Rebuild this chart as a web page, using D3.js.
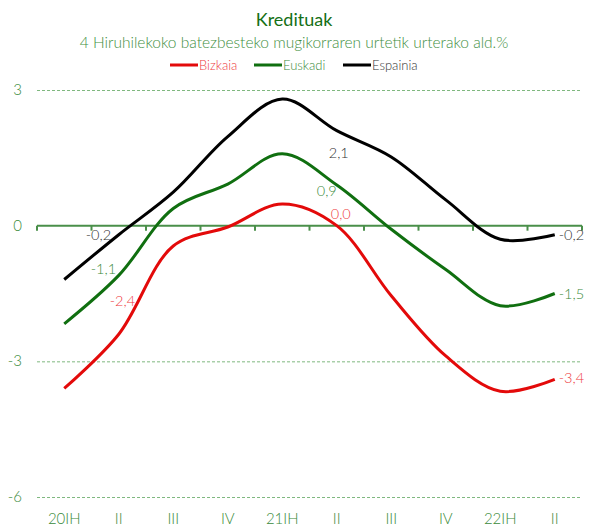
<!DOCTYPE html>
<html>
<head>
<meta charset="utf-8">
<script src="https://cdn.jsdelivr.net/npm/d3@7"></script>
<style>
  body { margin: 0; background: #fff; }
  svg { font-family: Lato, "Open Sans", sans-serif; font-weight: 300; }
</style>
</head>
<body>
<svg id="chart"></svg>
<script>
// categories (quarters)
const quarters = ["20IH", "II", "III", "IV", "21IH", "II ", "III ", "IV ", "22IH", "II  "];
const quarterLabels = ["20IH", "II", "III", "IV", "21IH", "II", "III", "IV", "22IH", "II"];

// series values
const bizkaia  = [-3.6, -2.4, -0.45, -0.03, 0.48, 0.0, -1.55, -2.88, -3.66, -3.4];
const euskadi  = [-2.17, -1.1, 0.38, 0.92, 1.59, 0.9, -0.08, -0.97, -1.77, -1.5];
const espainia = [-1.19, -0.2, 0.74, 1.97, 2.8, 2.1, 1.52, 0.57, -0.3, -0.2];

const yTicks = [3, 0, -3, -6];

const seriesNames = ["Bizkaia", "Euskadi", "Espainia"];

const width = 590, height = 528;
const margin = {top: 90, right: 8, bottom: 31, left: 37};

const svg = d3.select("#chart").attr("width", width).attr("height", height);

const x = d3.scaleBand().domain(quarters).range([margin.left, width - margin.right]);
const y = d3.scaleLinear().domain([-6, 3]).range([height - margin.bottom, margin.top]);

const series = [
  {name: seriesNames[0], values: bizkaia, color: "#e30a0a", label: "#ee3a40"},
  {name: seriesNames[1], values: euskadi, color: "#106f10", label: "#3a8a3a"},
  {name: seriesNames[2], values: espainia, color: "#000000", label: "#333333"}
];

// title
svg.append("text").attr("x", 294).attr("y", 26).attr("text-anchor", "middle")
  .attr("font-size", 18).attr("font-weight", 400).attr("fill", "#157015").text("Kredituak");
svg.append("text").attr("x", 294).attr("y", 48).attr("text-anchor", "middle")
  .attr("font-size", 15.5).attr("fill", "#3f8f3f")
  .text("4 Hiruhilekoko batezbesteko mugikorraren urtetik urterako ald.%");

// legend
const legendPos = [170, 254, 343];
series.forEach((s, i) => {
  const g = svg.append("g").attr("transform", `translate(${legendPos[i]},65)`);
  g.append("line").attr("x1", 0).attr("x2", 28).attr("stroke", s.color).attr("stroke-width", 3);
  g.append("text").attr("x", 29).attr("y", 4.5).attr("font-size", 13).attr("fill", s.label).text(s.name);
});

// gridlines
svg.append("g").selectAll("line").data(yTicks.filter(d => d !== 0)).join("line")
  .attr("x1", margin.left).attr("x2", width - margin.right)
  .attr("y1", d => y(d) + 0.5).attr("y2", d => y(d) + 0.5)
  .attr("stroke", "#7fb87f").attr("stroke-width", 1).attr("stroke-dasharray", "3,2");

// y axis labels
svg.append("g").selectAll("text").data(yTicks).join("text")
  .attr("x", 22).attr("y", d => y(d) + 5).attr("text-anchor", "end")
  .attr("font-size", 15).attr("fill", "#3a8a3a").text(d => d);

// zero axis with ticks
const zeroG = svg.append("g").attr("transform", `translate(0,${y(0)})`);
zeroG.append("line").attr("x1", margin.left).attr("x2", width - margin.right)
  .attr("stroke", "#4a8f4a").attr("stroke-width", 2);
const tickPos = quarters.map(q => x(q)).concat([x.range()[1]]);
zeroG.selectAll(".tk").data(tickPos).join("line").attr("class", "tk")
  .attr("x1", d => d).attr("x2", d => d).attr("y1", 0).attr("y2", 5)
  .attr("stroke", "#4a8f4a").attr("stroke-width", 2);

// x labels
svg.append("g").selectAll("text").data(quarters).join("text")
  .attr("x", d => x(d) + x.bandwidth() / 2).attr("y", 524).attr("text-anchor", "middle")
  .attr("font-size", 15).attr("fill", "#3a8a3a").text((d, i) => quarterLabels[i]);

// lines
const line = d3.line()
  .x((d, i) => x(quarters[i]) + x.bandwidth() / 2)
  .y(d => y(d))
  .curve(d3.curveCatmullRom.alpha(0.5));

series.forEach(s => {
  svg.append("path").datum(s.values).attr("d", line)
    .attr("fill", "none").attr("stroke", s.color).attr("stroke-width", 3);
});

// data labels
const fmt = v => d3.format(".1f")(v).replace(".", ",").replace("−", "-");
const cx = i => x(quarters[i]) + x.bandwidth() / 2;
const labels = [
  {s: 2, i: 1, dx: -33, dy: 5},
  {s: 1, i: 1, dx: -28, dy: -1},
  {s: 0, i: 1, dx: -9, dy: -28},
  {s: 2, i: 5, dx: -8, dy: 27},
  {s: 1, i: 5, dx: -20, dy: 11},
  {s: 0, i: 5, dx: -6, dy: -7},
  {s: 2, i: 9, dx: 4, dy: 5},
  {s: 1, i: 9, dx: 4, dy: 5},
  {s: 0, i: 9, dx: 4, dy: 4}
];
svg.append("g").selectAll("text").data(labels).join("text")
  .attr("x", d => cx(d.i) + d.dx)
  .attr("y", d => y(series[d.s].values[d.i]) + d.dy)
  .attr("font-size", 14.5).attr("fill", d => series[d.s].label)
  .text(d => fmt(series[d.s].values[d.i]));
</script>
</body>
</html>
